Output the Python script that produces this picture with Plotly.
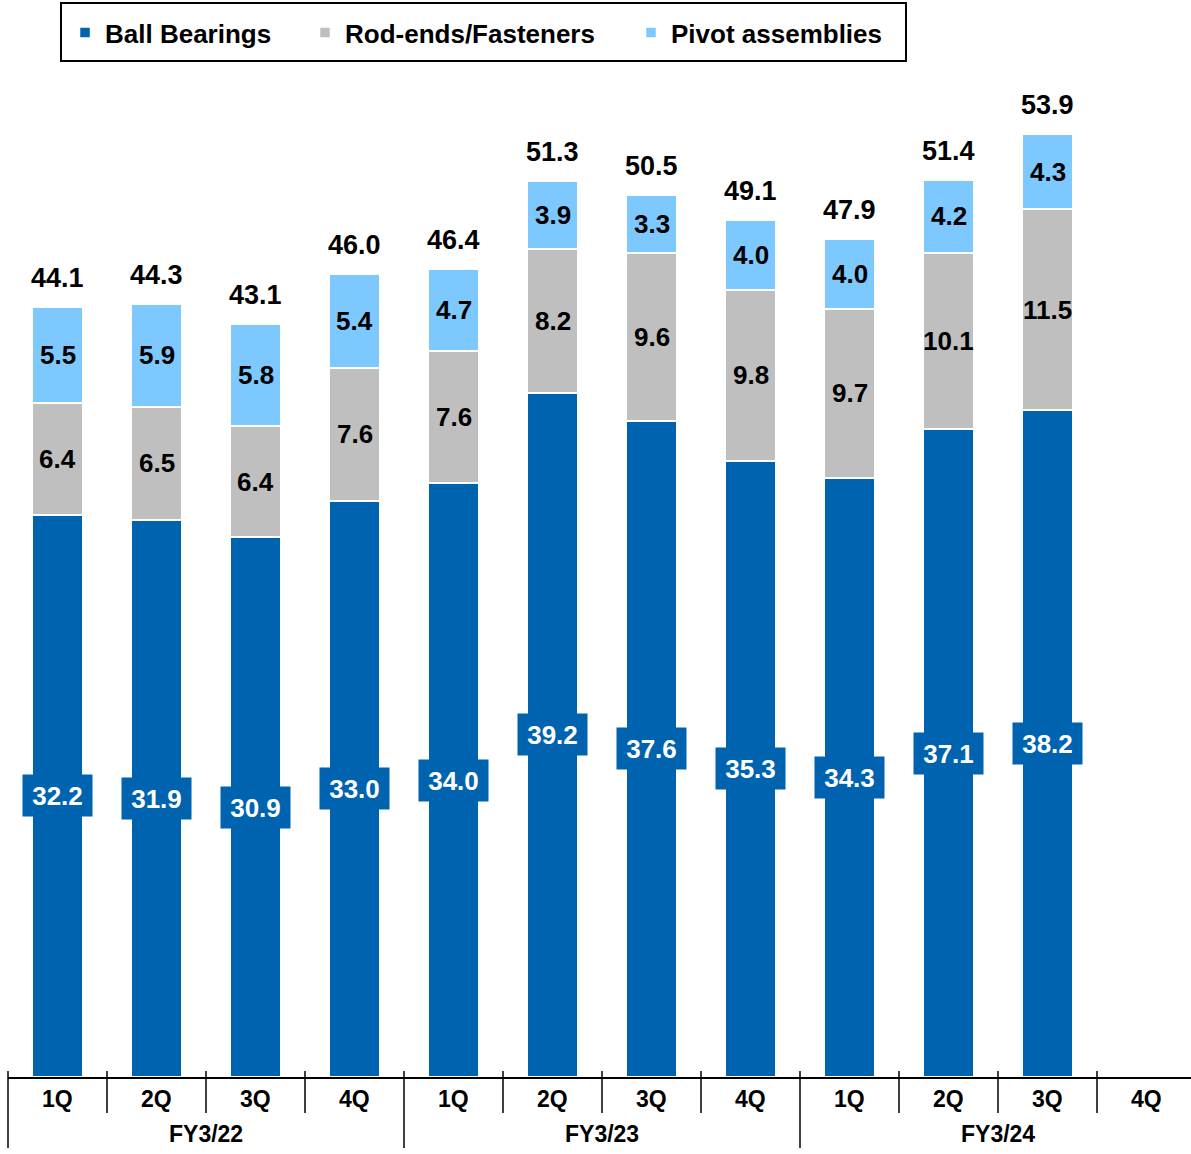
import plotly.graph_objects as go

# Quarterly net sales by segment
quarters = ["1Q", "2Q", "3Q", "4Q"] * 3
fiscal_years = ["FY3/22", "FY3/23", "FY3/24"]
ball_bearings = [32.2, 31.9, 30.9, 33.0, 34.0, 39.2, 37.6, 35.3, 34.3, 37.1, 38.2, None]
rod_ends = [6.4, 6.5, 6.4, 7.6, 7.6, 8.2, 9.6, 9.8, 9.7, 10.1, 11.5, None]
pivot = [5.5, 5.9, 5.8, 5.4, 4.7, 3.9, 3.3, 4.0, 4.0, 4.2, 4.3, None]
totals = [44.1, 44.3, 43.1, 46.0, 46.4, 51.3, 50.5, 49.1, 47.9, 51.4, 53.9, None]

BLUE = "#0063AF"
GREY = "#BFBFBF"
LIGHT = "#7DC8FF"
FONT = "Liberation Sans"

W, H = 1191, 1154
ML, MR, MT, MB = 8, 0, 80, 77
plot_w = W - ML - MR
plot_h = H - MT - MB
px_per_cat = 99.0
px_per_unit = 17.46

x_pos = list(range(len(quarters)))
x0 = -0.5
x1 = x0 + plot_w / px_per_cat
y_max = plot_h / px_per_unit


def paper_x(px):
    return (px - ML) / plot_w


def paper_y(py):
    return (H - MB - py) / plot_h


bar_w = 0.51
line = dict(color="white", width=2.5)

fig = go.Figure()
series = [("Ball Bearings", ball_bearings, BLUE, "legend", 105),
          ("Rod-ends/Fasteners", rod_ends, GREY, "legend2", 345),
          ("Pivot assemblies", pivot, LIGHT, "legend3", 671)]
legend_layout = {}
for name, vals, col, leg, text_x in series:
    fig.add_trace(go.Bar(x=x_pos, y=vals, name=f"<b>{name}</b>", width=bar_w,
                         marker=dict(color=col, line=line), legend=leg, showlegend=True))
    legend_layout[leg] = dict(orientation="h", x=paper_x(text_x - 40), xanchor="left",
                              y=paper_y(32.5), yanchor="middle", borderwidth=0,
                              bgcolor="rgba(0,0,0,0)",
                              font=dict(family=FONT, size=26, color="black"))

annotations = []
inner = dict(family=FONT, size=26, color="black")
top_font = dict(family=FONT, size=27, color="black")
for i in x_pos:
    b, r, p = ball_bearings[i], rod_ends[i], pivot[i]
    if b is None:
        continue
    # blue segment value in a filled box
    annotations.append(dict(x=i, y=b / 2, xref="x", yref="y", text=f"<b>{b:.1f}</b>",
                            showarrow=False, bgcolor=BLUE, width=67, height=39,
                            font=dict(family=FONT, size=26, color="white")))
    annotations.append(dict(x=i, y=b + r / 2, xref="x", yref="y", text=f"<b>{r:.1f}</b>",
                            showarrow=False, font=inner))
    annotations.append(dict(x=i, y=b + r + p / 2, xref="x", yref="y", text=f"<b>{p:.1f}</b>",
                            showarrow=False, font=inner))
    annotations.append(dict(x=i, y=b + r + p, xref="x", yref="y", text=f"<b>{totals[i]:.1f}</b>",
                            showarrow=False, yshift=29, font=top_font))

# quarter and fiscal-year labels under the axis
axis_font = dict(family=FONT, size=23, color="black")
for i, q in zip(x_pos, quarters):
    annotations.append(dict(x=i, y=0, xref="x", yref="y", text=f"<b>{q}</b>", showarrow=False,
                            yshift=-22, font=axis_font))
for k, fy in enumerate(fiscal_years):
    annotations.append(dict(x=4 * k + 1.5, y=0, xref="x", yref="y", text=f"<b>{fy}</b>",
                            showarrow=False, yshift=-57, font=axis_font))

# category divider ticks
shapes = []
for bnd in range(len(quarters)):
    xp = (bnd - 0.5 - x0) / (x1 - x0)
    depth = 71 if bnd % 4 == 0 else 36
    shapes.append(dict(type="line", xref="paper", yref="paper", x0=xp, x1=xp,
                       y0=6 / plot_h, y1=-depth / plot_h,
                       line=dict(color="black", width=1.5)))
# frame around the legend entries
shapes.append(dict(type="rect", xref="paper", yref="paper",
                   x0=paper_x(61), x1=paper_x(906), y0=paper_y(3), y1=paper_y(61),
                   line=dict(color="black", width=2), fillcolor="rgba(0,0,0,0)"))

fig.update_layout(
    width=W, height=H, barmode="stack", bargap=0,
    margin=dict(l=ML, r=MR, t=MT, b=MB),
    plot_bgcolor="white", paper_bgcolor="white",
    showlegend=True,
    xaxis=dict(range=[x0, x1], showticklabels=False, showgrid=False, zeroline=False,
               showline=True, linecolor="black", linewidth=1.5, ticks=""),
    yaxis=dict(range=[0, y_max], visible=False),
    annotations=annotations, shapes=shapes,
    font=dict(family=FONT),
    **legend_layout,
)

fig.write_html("out.html")
